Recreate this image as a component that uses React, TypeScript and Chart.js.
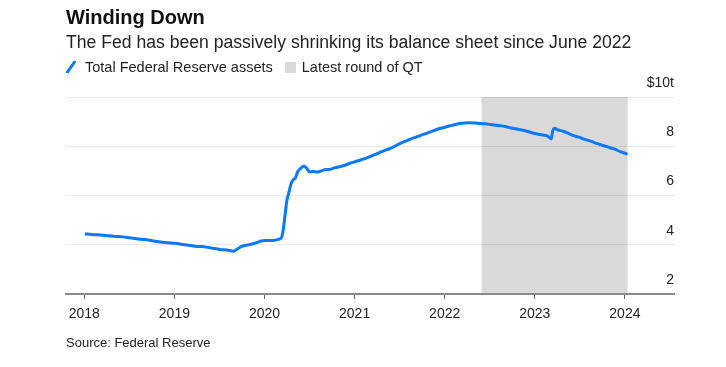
import React, { useEffect, useRef } from "react";
import { Chart, registerables } from "chart.js";

Chart.register(...registerables);

// Weekly-ish observations of total Fed assets, $ trillions
const dates: string[] = [
  "2018-01-03","2018-02-07","2018-03-07","2018-04-04","2018-05-02","2018-06-06","2018-07-04","2018-08-01","2018-09-05","2018-10-03","2018-11-07","2018-12-05",
  "2019-01-02","2019-02-06","2019-03-06","2019-04-03","2019-05-01","2019-06-05","2019-07-03","2019-08-07","2019-08-28","2019-09-18","2019-10-02","2019-10-16","2019-11-06","2019-11-27","2019-12-18","2020-01-08","2020-02-05",
  "2020-03-04","2020-03-11","2020-03-18","2020-03-25","2020-04-01","2020-04-08","2020-04-15","2020-04-22","2020-04-29","2020-05-06","2020-05-13","2020-05-20","2020-05-27","2020-06-03","2020-06-10","2020-06-17","2020-06-24","2020-07-01","2020-07-15","2020-08-05","2020-08-19","2020-09-02","2020-09-23","2020-10-14","2020-11-04","2020-11-25","2020-12-16",
  "2021-01-06","2021-01-27","2021-02-17","2021-03-10","2021-03-31","2021-04-21","2021-05-12","2021-06-02","2021-06-23","2021-07-14","2021-08-04","2021-08-25","2021-09-15","2021-10-06","2021-10-27","2021-11-17","2021-12-08","2021-12-29",
  "2022-01-19","2022-02-09","2022-03-02","2022-03-23","2022-04-13","2022-05-04","2022-05-25","2022-06-15","2022-07-06","2022-07-27","2022-08-17","2022-09-07","2022-09-28","2022-10-19","2022-11-09","2022-11-30","2022-12-21",
  "2023-01-11","2023-02-01","2023-02-22","2023-03-08","2023-03-15","2023-03-22","2023-04-05","2023-04-26","2023-05-17","2023-06-07","2023-06-28","2023-07-19","2023-08-09","2023-08-30","2023-09-20","2023-10-11","2023-11-01","2023-11-22","2023-12-13","2024-01-03","2024-01-10"
];
const assets: number[] = [
  4.44,4.41,4.40,4.37,4.34,4.32,4.28,4.24,4.21,4.16,4.11,4.08,
  4.06,4.01,3.97,3.93,3.92,3.86,3.81,3.78,3.74,3.86,3.94,3.97,4.02,4.07,4.15,4.17,4.17,
  4.24,4.31,4.67,5.25,5.81,6.08,6.37,6.57,6.66,6.72,6.93,7.04,7.10,7.17,7.19,7.14,7.06,6.96,6.97,6.95,7.00,7.05,7.06,7.13,7.18,7.24,7.32,
  7.38,7.45,7.52,7.60,7.69,7.78,7.86,7.94,8.06,8.16,8.24,8.33,8.40,8.48,8.55,8.63,8.71,8.76,
  8.82,8.87,8.92,8.94,8.95,8.94,8.92,8.91,8.88,8.85,8.83,8.79,8.74,8.70,8.66,8.61,8.55,
  8.50,8.46,8.41,8.30,8.63,8.73,8.66,8.61,8.52,8.43,8.37,8.29,8.23,8.15,8.08,8.01,7.94,7.88,7.78,7.71,7.66
];
const qtRange: number[] = [2022.41, 2024.03];
const yearTicks: number[] = [2018, 2019, 2020, 2021, 2022, 2023, 2024];
const valueTicks: number[] = [2, 4, 6, 8, 10];

function toYear(s: string): number {
  const d = new Date(s + "T00:00:00Z");
  const y = d.getUTCFullYear();
  const start = Date.UTC(y, 0, 1);
  const end = Date.UTC(y + 1, 0, 1);
  return y + (d.getTime() - start) / (end - start);
}

const BLUE = "#0a78ff";
const FONT = "'Liberation Sans', Arial, Helvetica, sans-serif";

const shadePlugin = {
  id: "qtShade",
  beforeDraw(chart: any) {
    const { ctx, chartArea, scales } = chart;
    const x0 = scales.x.getPixelForValue(qtRange[0]);
    const x1 = scales.x.getPixelForValue(qtRange[1]);
    const yTop = scales.y.getPixelForValue(10);
    ctx.save();
    ctx.fillStyle = "#d9d9d9";
    ctx.fillRect(x0, yTop, x1 - x0, chartArea.bottom - yTop);
    ctx.restore();
  },
};

export default function App() {
  const ref = useRef<HTMLCanvasElement | null>(null);
  useEffect(() => {
    if (!ref.current) return;
    const points = dates.map((d, i) => ({ x: toYear(d), y: assets[i] }));
    const chart = new Chart(ref.current, {
      type: "line",
      data: {
        datasets: [
          {
            label: "Total Federal Reserve assets",
            data: points,
            borderColor: BLUE,
            borderWidth: 3,
            pointRadius: 0,
            tension: 0.2,
            fill: false,
          },
        ],
      },
      options: {
        animation: false,
        responsive: false,
        maintainAspectRatio: false,
        layout: { padding: { left: 66, right: 52, top: 97, bottom: 0 } },
        plugins: { legend: { display: false }, tooltip: { enabled: false }, title: { display: false } },
        scales: {
          x: {
            type: "linear",
            min: 2017.797,
            max: 2024.545,
            afterBuildTicks(scale: any) {
              scale.ticks = yearTicks.map((v) => ({ value: v }));
            },
            afterFit(scale: any) {
              scale.height = 73;
            },
            border: { display: true, color: "#8a8a8a", width: 2 },
            grid: { drawOnChartArea: false, drawTicks: true, tickLength: 5, color: "#666" },
            ticks: {
              padding: 7,
              maxRotation: 0,
              autoSkip: false,
              color: "#222",
              font: { family: FONT, size: 14 },
              callback: (v: any) => String(v),
            },
          },
          y: {
            position: "right",
            min: 2,
            max: 10,
            afterBuildTicks(scale: any) {
              scale.ticks = valueTicks.map((v) => ({ value: v }));
            },
            afterFit(scale: any) {
              scale.width = 0;
            },
            border: { display: false },
            grid: { drawTicks: false, color: "rgba(0,0,0,0.08)", lineWidth: 1 },
            ticks: {
              mirror: true,
              padding: 0,
              labelOffset: -14,
              color: "#222",
              font: { family: FONT, size: 14 },
              callback: (v: any) => (v === 10 ? "$10t" : String(v)),
            },
          },
        },
      },
      plugins: [shadePlugin],
    });
    return () => chart.destroy();
  }, []);

  const base: React.CSSProperties = { position: "absolute", fontFamily: FONT, color: "#111", whiteSpace: "nowrap" };
  return (
    <div style={{ position: "absolute", left: 0, top: 0, width: 726, height: 367, background: "#fff", overflow: "hidden" }}>
      <canvas ref={ref} width={726} height={367} style={{ position: "absolute", left: 0, top: 0, width: 726, height: 367 }} />
      <div style={{ ...base, left: 66, top: 5, fontSize: 20, lineHeight: "24px", fontWeight: 700 }}>Winding Down</div>
      <div style={{ ...base, left: 66, top: 31.5, fontSize: 17.6, lineHeight: "20px", color: "#222" }}>
        The Fed has been passively shrinking its balance sheet since June 2022
      </div>
      <div style={{ ...base, left: 66, top: 58, fontSize: 14.5, lineHeight: "18px", color: "#222", display: "flex", alignItems: "center" }}>
        <svg width="10" height="12" style={{ marginRight: 9 }}>
          <line x1="1.5" y1="11" x2="8.5" y2="1" stroke={BLUE} strokeWidth="3" strokeLinecap="round" />
        </svg>
        <span>Total Federal Reserve assets</span>
        <span style={{ display: "inline-block", width: 11, height: 11, background: "#d9d9d9", marginLeft: 12, marginRight: 6 }} />
        <span>Latest round of QT</span>
      </div>
      <div style={{ ...base, left: 66, top: 335, fontSize: 13, lineHeight: "16px", color: "#222" }}>Source: Federal Reserve</div>
    </div>
  );
}
